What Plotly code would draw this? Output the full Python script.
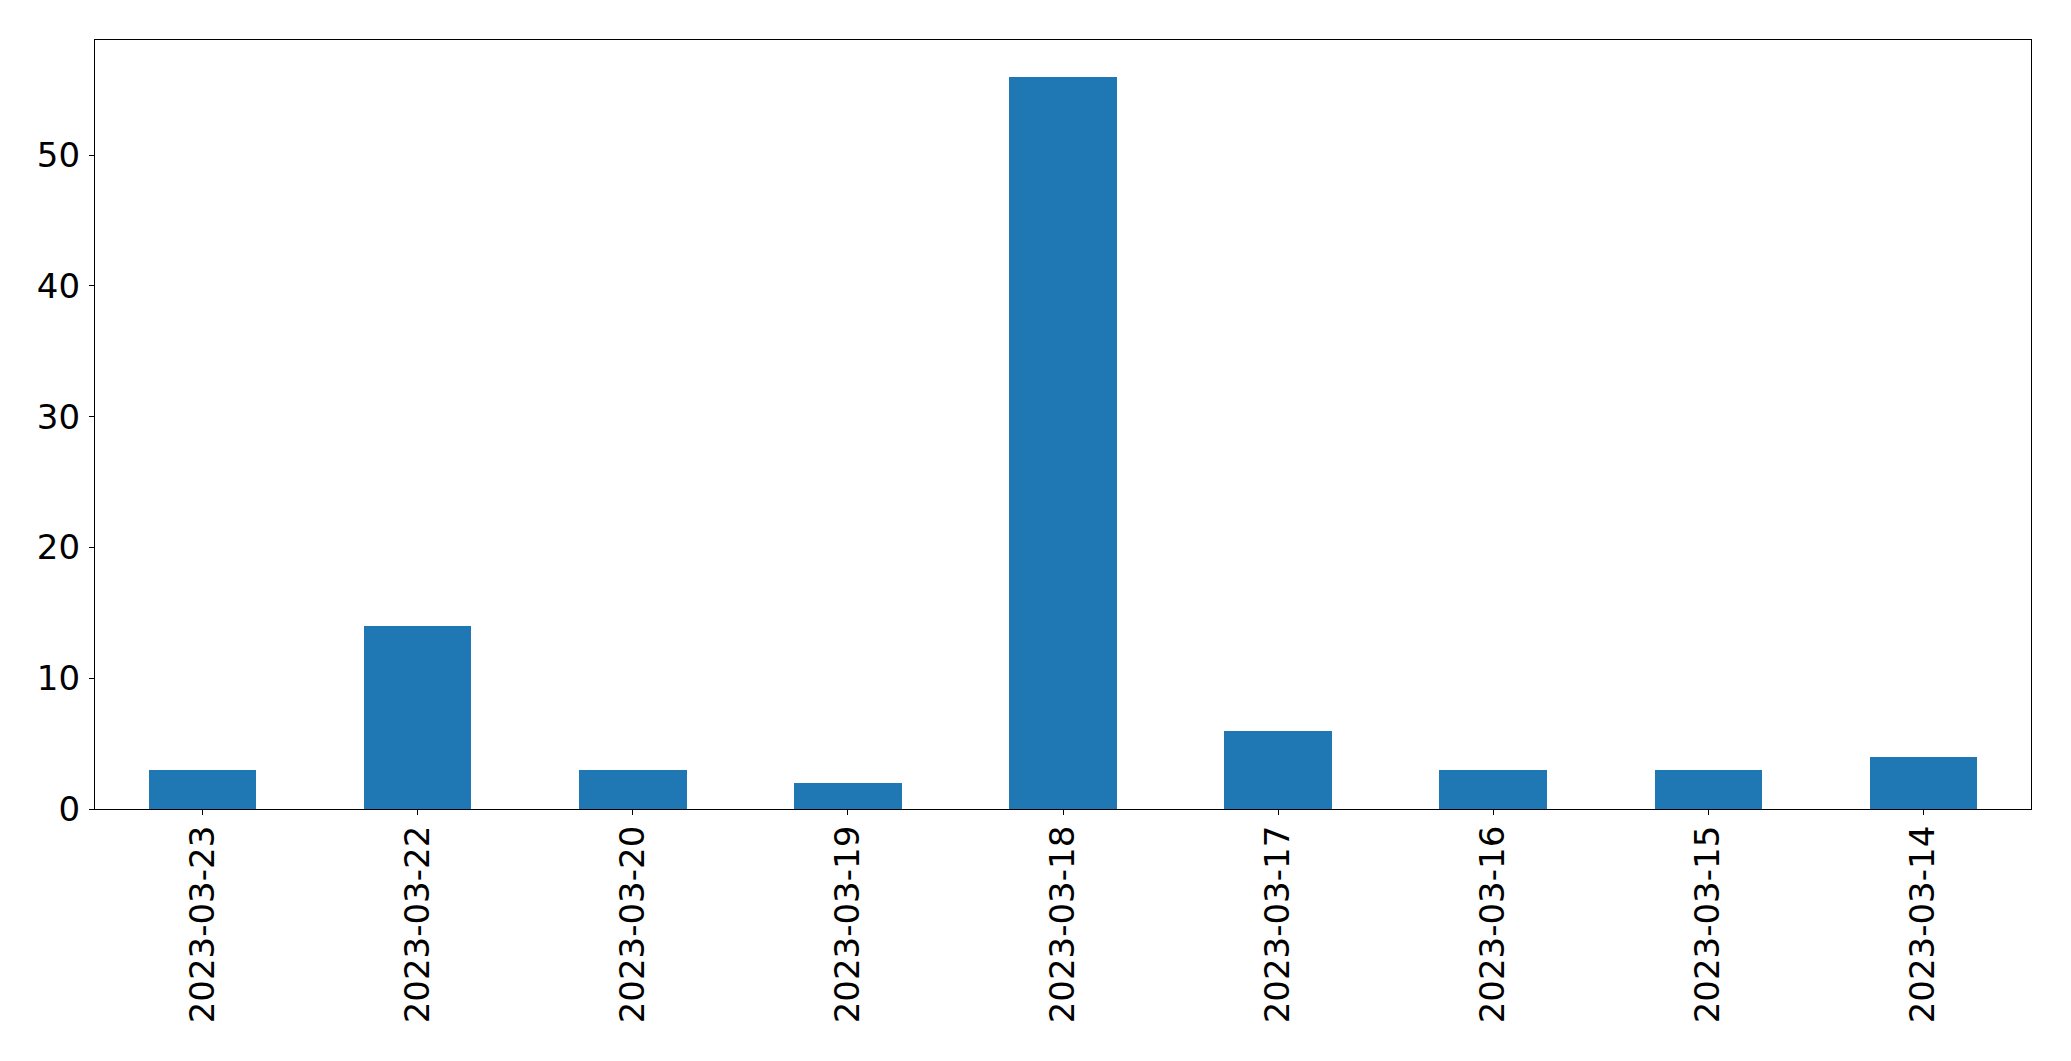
import plotly.graph_objects as go

dates = ["2023-03-23", "2023-03-22", "2023-03-20", "2023-03-19", "2023-03-18",
         "2023-03-17", "2023-03-16", "2023-03-15", "2023-03-14"]
counts = [3, 14, 3, 2, 56, 6, 3, 3, 4]
y_ticks = [0, 10, 20, 30, 40, 50]

fig = go.Figure(go.Bar(x=dates, y=counts, width=0.5, marker=dict(color="#1f77b4", line=dict(width=0))))

W, H = 2071, 1061
fig.update_layout(
    width=W, height=H,
    margin=dict(l=94.5, r=39.5, t=39.5, b=252, pad=0),
    plot_bgcolor="white", paper_bgcolor="white",
    font=dict(family="DejaVu Sans", size=34, color="black"),
    showlegend=False,
    bargap=0,
)
fig.update_xaxes(
    type="category", range=[-0.5, 8.5], tickangle=-90,
    showline=True, linecolor="black", linewidth=1.3, mirror=True,
    ticks="outside", ticklen=5, tickwidth=1.3, tickcolor="black",
    showgrid=False, zeroline=False, ticklabelstandoff=-3,
)
fig.update_yaxes(
    range=[0, 58.8], tickvals=y_ticks,
    showline=True, linecolor="black", linewidth=1.3, mirror=True,
    ticks="outside", ticklen=5, tickwidth=1.3, tickcolor="black",
    showgrid=False, zeroline=False, ticklabelstandoff=2,
)
fig.write_html("out.html", config={"displayModeBar": False},
               post_script="document.body.style.margin='0';document.body.style.overflow='hidden';")
